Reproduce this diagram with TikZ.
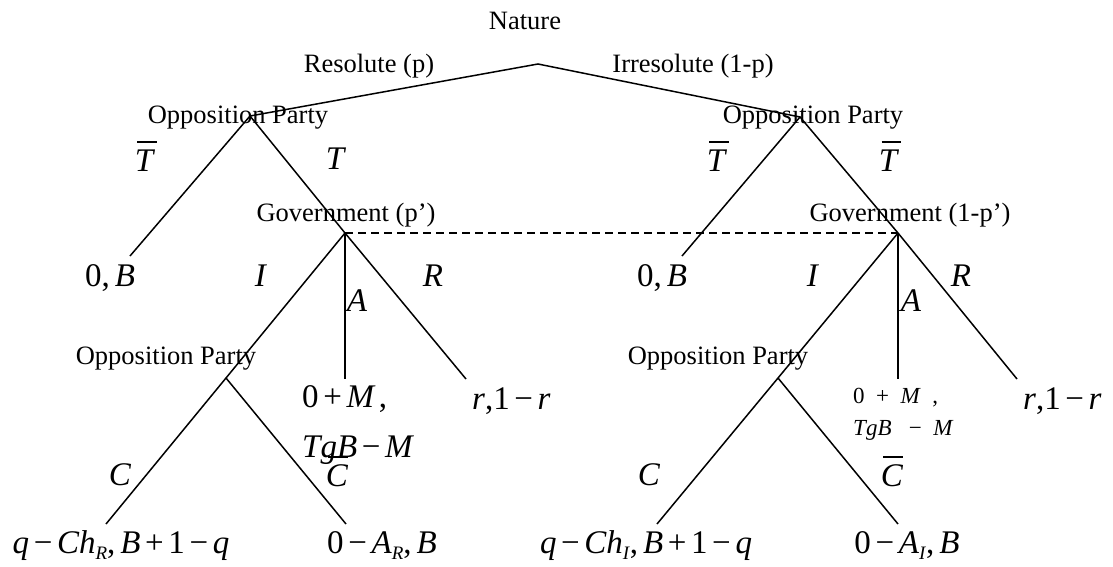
\documentclass[tikz,border=0pt]{standalone}
\usepackage{fontspec}
\setmainfont{Liberation Serif}
\newcommand\mi[1]{\textit{#1}}
\newcommand\barred[1]{\rlap{\hspace{0.08em}\rule[0.86em]{0.58em}{0.045em}}\mi{#1}}
\newcommand\op[1]{\kern0.14em#1\kern0.14em}
\newcommand\lowsub[1]{\raisebox{-0.2em}{\fontsize{19}{20}\selectfont\mi{#1}}}
\begin{document}
\begin{tikzpicture}[x=1pt,y=-1pt,
  edge/.style={line width=1.5pt},
  info/.style={line width=1.5pt, dash pattern=on 8pt off 5pt},
  txt/.style={font=\fontsize{26.5}{30}\selectfont, inner sep=0, anchor=base},
  mth/.style={font=\fontsize{33}{38}\selectfont, inner sep=0, anchor=base},
  smth/.style={font=\fontsize{23}{30}\selectfont, inner sep=0, anchor=base west}]
\useasboundingbox (0,0) rectangle (1113,566);
% decision points
\coordinate (root) at (538,64);
\coordinate (L1) at (250,116);
\coordinate (R1) at (800,117);
\coordinate (G1) at (345,233);
\coordinate (G2) at (898,233);
\coordinate (OL) at (226,378);
\coordinate (OR) at (778,378);
% leaves
\coordinate (L1a) at (130,256);
\coordinate (R1a) at (682,256);
\coordinate (G1a) at (345,379);
\coordinate (G1r) at (466,379);
\coordinate (G2a) at (898,379);
\coordinate (G2r) at (1017,379);
\coordinate (OLc) at (106,524);
\coordinate (OLn) at (346,524);
\coordinate (ORc) at (657,524);
\coordinate (ORn) at (898,524);
% edges
\draw[edge] (L1) -- (root) -- (R1);
\draw[edge] (L1a) -- (L1) -- (G1);
\draw[edge] (R1a) -- (R1) -- (G2);
\draw[edge] (G1) -- (OL) -- (OLc);
\draw[edge] (OL) -- (OLn);
\draw[edge] (G1) -- (G1a);
\draw[edge] (G1) -- (G1r);
\draw[edge] (G2) -- (OR) -- (ORc);
\draw[edge] (OR) -- (ORn);
\draw[edge] (G2) -- (G2a);
\draw[edge] (G2) -- (G2r);
\draw[info] (G1) -- (G2);
% labels
\node[txt] (nat) at (525,29) {Nature};
\node[txt] (res) at (369,72) {Resolute (p)};
\node[txt] (irr) at (693,72) {Irresolute (1-p)};
\node[txt] (op1) at (238,123) {Opposition Party};
\node[txt] (op2) at (813,123) {Opposition Party};
\node[mth] (tb1) at (145,171) {\barred{T}};
\node[mth] (t1) at (336,169) {\mi{T}};
\node[mth] (tb2) at (717,171) {\barred{T}};
\node[mth] (tb3) at (889,171) {\barred{T}};
\node[txt] (gov1) at (346,221) {Government (p’)};
\node[txt] (gov2) at (910,221) {Government (1-p’)};
\node[mth] (pay1) at (110,286) {0,\kern0.15em\mi{B}};
\node[mth] (i1) at (261,286) {\mi{I}};
\node[mth] (r1) at (433,286) {\mi{R}};
\node[mth] (pay2) at (662,286) {0,\kern0.15em\mi{B}};
\node[mth] (i2) at (813,286) {\mi{I}};
\node[mth] (r2) at (961,286) {\mi{R}};
\node[mth] (a1) at (357,311) {\mi{A}};
\node[mth] (a2) at (911,311) {\mi{A}};
\node[txt] (op3) at (166,364) {Opposition Party};
\node[txt] (op4) at (718,364) {Opposition Party};
\node[mth, anchor=base west] (m1) at (302,407) {0\op{+}\mi{M}\kern0.1em,};
\node[mth, anchor=base west] (m2) at (302,457) {\mi{TgB}\op{−}\mi{M}};
\node[mth, anchor=base west] (rr1) at (472,409) {\mi{r},1\op{−}\mi{r}};
\node[smth] (m3) at (853,403) {0\enspace+\enspace\mi{M}\enspace,};
\node[smth] (m4) at (853,435) {\mi{TgB}\enspace\ −\enspace\mi{M}};
\node[mth, anchor=base west] (rr2) at (1023,409) {\mi{r},1\op{−}\mi{r}};
\node[mth] (c1) at (120,485) {\mi{C}};
\node[mth] (cb1) at (337,486) {\barred{C}};
\node[mth] (c2) at (649,485) {\mi{C}};
\node[mth] (cb2) at (892,486) {\barred{C}};
\node[mth] (p1) at (121,553) {\mi{q}\op{−}\mi{Ch}\lowsub{R},\kern0.15em\mi{B}\op{+}1\op{−}\mi{q}};
\node[mth] (p2) at (382,553) {0\op{−}\mi{A}\lowsub{R},\kern0.15em\mi{B}};
\node[mth] (p3) at (646,553) {\mi{q}\op{−}\mi{Ch}\lowsub{I},\kern0.15em\mi{B}\op{+}1\op{−}\mi{q}};
\node[mth] (p4) at (907,553) {0\op{−}\mi{A}\lowsub{I},\kern0.15em\mi{B}};
\end{tikzpicture}
\end{document}
